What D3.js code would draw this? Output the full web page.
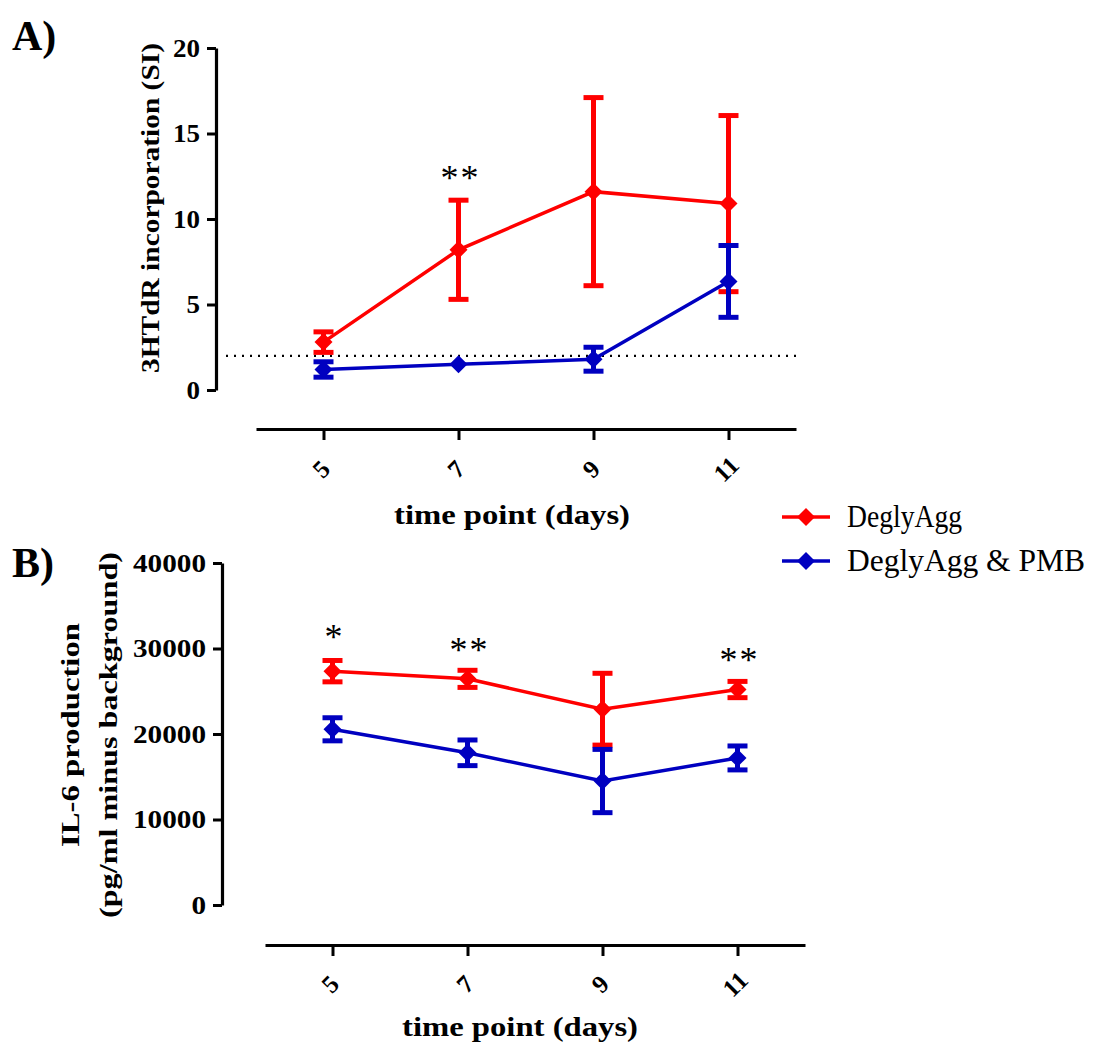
<!DOCTYPE html>
<html>
<head>
<meta charset="utf-8">
<script src="https://cdn.jsdelivr.net/npm/d3@7"></script>
<style>
  body { margin: 0; background: #fff; }
  text { font-family: "Liberation Serif", "Times New Roman", serif; }
</style>
</head>
<body>
<script>
// ---------------- DATA ----------------
const days = [5, 7, 9, 11];
const xTickLabels = ["5", "7", "9", "11"];

// Panel A: 3HTdR incorporation (SI)
const siDegly    = [2.8, 8.2, 11.6, 10.9];
const siDeglyErr = [0.6, 2.9, 5.5, 5.15];
const siPMB      = [1.2, 1.5, 1.8, 6.35];
const siPMBErr   = [0.45, 0.15, 0.7, 2.1];
const siThreshold = 2;
const siTicks = [0, 5, 10, 15, 20];

// Panel B: IL-6 production (pg/ml minus background)
const il6Degly    = [27350, 26450, 22900, 25200];
const il6DeglyErr = [1250, 1000, 4200, 950];
const il6PMB      = [20550, 17800, 14500, 17200];
const il6PMBErr   = [1350, 1500, 3700, 1400];
const il6Ticks = [0, 10000, 20000, 30000, 40000];

// Significance marks
const sigA = [{ day: 7, label: "**", v: 11.7 }];
const sigB = [
  { day: 5, label: "*", v: 29900 },
  { day: 7, label: "**", v: 28400 },
  { day: 11, label: "**", v: 27250 }
];

const seriesNames = ["DeglyAgg", "DeglyAgg & PMB"];
const colors = ["#ff0000", "#0000c0"];

// ---------------- DRAW ----------------
const svg = d3.select("body").append("svg")
  .attr("width", 1097).attr("height", 1046);

const diamond = "M0,-9L9,0L0,9L-9,0Z";

function panel(cfg) {
  const g = svg.append("g");
  const x = d3.scaleLinear().domain([4, 12]).range(cfg.xRange);
  const y = d3.scaleLinear().domain(cfg.yDomain).range(cfg.yRange);

  // y axis
  const ya = g.append("g")
    .attr("transform", `translate(${cfg.yAxisX},0)`)
    .call(d3.axisLeft(y).tickValues(cfg.yTicks).tickSize(9).tickSizeOuter(0).tickPadding(7)
      .tickFormat(d3.format("d")));
  ya.select(".domain").attr("stroke", "#000").attr("stroke-width", 3.2);
  ya.selectAll(".tick line").attr("stroke", "#000").attr("stroke-width", 3);
  ya.selectAll(".tick text")
    .attr("font-size", 25).attr("font-weight", "bold").attr("fill", "#000")
    .attr("font-family", "Liberation Serif")
    .attr("textLength", d => String(d).length * cfg.digitW)
    .attr("lengthAdjust", "spacingAndGlyphs");

  // x axis
  const xa = g.append("g")
    .attr("transform", `translate(0,${cfg.xAxisY})`)
    .call(d3.axisBottom(x).tickValues(days).tickSize(11).tickSizeOuter(0)
      .tickFormat((d, i) => xTickLabels[i]));
  xa.select(".domain").attr("stroke", "#000").attr("stroke-width", 3.2);
  xa.selectAll(".tick line").attr("stroke", "#000").attr("stroke-width", 3);
  xa.selectAll(".tick text")
    .attr("font-size", 25).attr("font-weight", "bold").attr("fill", "#000")
    .attr("font-family", "Liberation Serif")
    .attr("y", 0).attr("dy", "0.35em")
    .attr("text-anchor", "middle")
    .attr("transform", `translate(-3,${cfg.labelOff}) rotate(-45)`);

  // x title
  g.append("text")
    .attr("x", cfg.xTitleX).attr("y", cfg.xTitleY)
    .attr("text-anchor", "middle")
    .attr("font-size", 27).attr("font-weight", "bold")
    .attr("textLength", 236).attr("lengthAdjust", "spacingAndGlyphs")
    .text("time point (days)");

  // threshold line
  if (cfg.threshold !== undefined) {
    g.append("line")
      .attr("x1", cfg.yAxisX + 10).attr("x2", cfg.xRange[1])
      .attr("y1", y(cfg.threshold)).attr("y2", y(cfg.threshold))
      .attr("stroke", "#000").attr("stroke-width", 2.2)
      .attr("stroke-dasharray", "2,6");
  }

  // series
  cfg.series.forEach((s, si) => {
    const col = colors[si];
    const pts = days.map((d, i) => ({ day: d, v: s.values[i], e: s.errs[i] }));
    const sg = g.append("g");
    sg.append("path")
      .datum(pts)
      .attr("fill", "none").attr("stroke", col).attr("stroke-width", 3.5)
      .attr("d", d3.line().x(d => x(d.day)).y(d => y(d.v)));
    const eb = sg.selectAll(".eb").data(pts.filter(p => Math.abs(y(p.v + p.e) - y(p.v)) > 6))
      .enter().append("g");
    eb.append("line")
      .attr("x1", d => x(d.day)).attr("x2", d => x(d.day))
      .attr("y1", d => y(d.v + d.e)).attr("y2", d => y(d.v - d.e))
      .attr("stroke", col).attr("stroke-width", 5);
    [1, -1].forEach(sgn => {
      eb.append("line")
        .attr("x1", d => x(d.day) - 10).attr("x2", d => x(d.day) + 10)
        .attr("y1", d => y(d.v + sgn * d.e)).attr("y2", d => y(d.v + sgn * d.e))
        .attr("stroke", col).attr("stroke-width", 5);
    });
    sg.selectAll(".mk").data(pts).enter().append("path")
      .attr("d", diamond).attr("fill", col)
      .attr("transform", d => `translate(${x(d.day)},${y(d.v)})`);
  });

  // significance
  g.selectAll(".sig").data(cfg.sig).enter().append("text")
    .attr("x", d => x(d.day) + 2).attr("y", d => y(d.v))
    .attr("text-anchor", "middle")
    .attr("font-size", 36).attr("fill", "#000")
    .attr("letter-spacing", 2)
    .text(d => d.label);
}

panel({
  xRange: [256, 796], yDomain: [0, 20], yRange: [390, 48],
  yAxisX: 216, xAxisY: 429, yTicks: siTicks, digitW: 13.5, labelOff: 40,
  xTitleX: 512, xTitleY: 524, threshold: siThreshold,
  series: [{ values: siDegly, errs: siDeglyErr }, { values: siPMB, errs: siPMBErr }],
  sig: sigA
});

panel({
  xRange: [265, 805], yDomain: [0, 40000], yRange: [905, 563],
  yAxisX: 222, xAxisY: 945, yTicks: il6Ticks, digitW: 14.6, labelOff: 39,
  xTitleX: 520, xTitleY: 1036,
  series: [{ values: il6Degly, errs: il6DeglyErr }, { values: il6PMB, errs: il6PMBErr }],
  sig: sigB
});

// y titles
svg.append("text")
  .attr("transform", "translate(159,208) rotate(-90)")
  .attr("text-anchor", "middle").attr("font-size", 25).attr("font-weight", "bold")
  .attr("textLength", 330).attr("lengthAdjust", "spacingAndGlyphs")
  .text("3HTdR incorporation (SI)");
svg.append("text")
  .attr("transform", "translate(79,735) rotate(-90)")
  .attr("text-anchor", "middle").attr("font-size", 25).attr("font-weight", "bold")
  .attr("textLength", 224).attr("lengthAdjust", "spacingAndGlyphs")
  .text("IL-6 production");
svg.append("text")
  .attr("transform", "translate(117,735) rotate(-90)")
  .attr("text-anchor", "middle").attr("font-size", 25).attr("font-weight", "bold")
  .attr("textLength", 366).attr("lengthAdjust", "spacingAndGlyphs")
  .text("(pg/ml minus background)");

// panel letters
svg.append("text").attr("x", 12).attr("y", 50)
  .attr("font-size", 42).attr("font-weight", "bold").text("A)");
svg.append("text").attr("x", 12).attr("y", 577)
  .attr("font-size", 42).attr("font-weight", "bold").text("B)");

// legend
const legY = [517, 561];
const leg = svg.append("g");
seriesNames.forEach((name, i) => {
  leg.append("line").attr("x1", 782).attr("x2", 830)
    .attr("y1", legY[i]).attr("y2", legY[i])
    .attr("stroke", colors[i]).attr("stroke-width", 3.5);
  leg.append("path").attr("d", diamond).attr("fill", colors[i])
    .attr("transform", `translate(806,${legY[i]})`);
  leg.append("text").attr("x", 847).attr("y", legY[i] + 10)
    .attr("font-size", 32).attr("fill", "#000")
    .attr("textLength", i === 0 ? 115 : 238).attr("lengthAdjust", "spacingAndGlyphs")
    .text(name);
});
</script>
</body>
</html>
